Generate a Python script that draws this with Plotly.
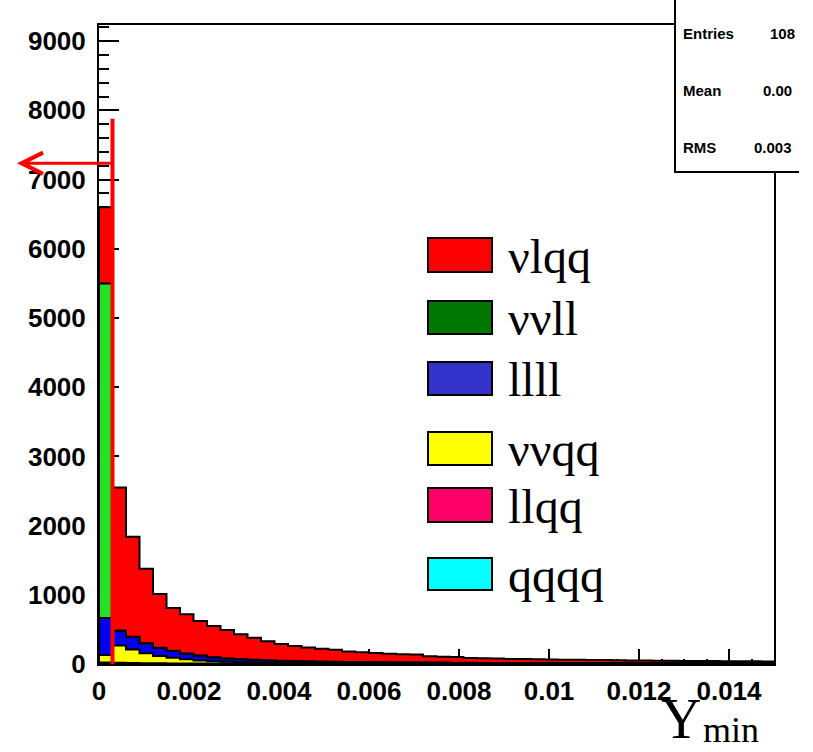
import numpy as np
import plotly.graph_objects as go

# ---------------- data ----------------
X_MIN, X_MAX, N_BINS = 0.0, 0.015, 50
Y_CUT = 0.0003          # cut value (red line)
ARROW_LEVEL = 7236      # height of the arrow
CUT_LINE_TOP = 7880

processes = ["qqqq", "llqq", "ννqq", "llll", "ννll", "νlqq"]  # bottom -> top of stack

qqqq = [5, 2, 2, 1, 1, 1, 1, 1, 1, 1, 1, 1, 1, 1, 1, 1, 1, 1, 1, 1,
        1, 1, 1, 1, 1, 1, 1, 1, 1, 1, 1, 1, 1, 1, 1, 1, 1, 1, 1, 1,
        1, 1, 1, 1, 1, 1, 1, 1, 1, 1]
llqq = [15, 15, 12, 10, 9, 8, 7, 6, 6, 5, 5, 4, 4, 4, 4, 3, 3, 3, 3, 3,
        3, 3, 2, 2, 2, 2, 2, 2, 2, 2, 2, 2, 2, 2, 2, 2, 2, 2, 2, 2,
        2, 2, 2, 2, 2, 2, 2, 2, 2, 2]
vvqq = [110, 250, 195, 145, 105, 80, 60, 42, 32, 26, 21, 17, 14, 12, 10, 9, 8, 7, 6, 6,
        5, 5, 4, 4, 4, 4, 3, 3, 3, 3, 3, 3, 3, 3, 2, 2, 2, 2, 2, 2,
        2, 2, 2, 2, 2, 2, 2, 2, 2, 2]
llll = [535, 210, 180, 140, 115, 100, 80, 70, 55, 45, 40, 35, 30, 27, 24, 22, 20, 18, 17, 16,
        15, 14, 13, 12, 11, 11, 10, 10, 9, 9, 9, 8, 8, 8, 7, 7, 7, 7, 6, 6,
        6, 6, 6, 5, 5, 5, 5, 5, 5, 5]
vvll = [4835, 8, 6, 5, 4, 4, 3, 3, 3, 3, 3, 3, 2, 2, 2, 2, 2, 2, 2, 2,
        2, 2, 2, 2, 2, 2, 2, 1, 1, 1, 1, 1, 1, 1, 1, 1, 1, 1, 1, 1,
        1, 1, 1, 1, 1, 1, 1, 1, 1, 1]
vlqq = [1100, 2065, 1445, 1074, 776, 617, 569, 498, 453, 410, 360, 320, 279, 244, 219, 203, 188, 174, 153, 140,
        132, 123, 120, 115, 92, 86, 82, 71, 66, 62, 58, 56, 53, 50, 49, 47, 45, 43, 42, 40,
        38, 36, 34, 34, 33, 31, 29, 28, 27, 26]

plot_colors = ["#00ffff", "#ff0066", "#ffff00", "#0000ee", "#22e022", "#ff0000"]
legend_labels = ["νlqq", "ννll", "llll", "ννqq", "llqq", "qqqq"]
legend_colors = ["#ff0000", "#007700", "#3333cc", "#ffff00", "#ff0066", "#00ffff"]

x_ticks = [0, 0.002, 0.004, 0.006, 0.008, 0.01, 0.012, 0.014]
x_ticktext = ["0", "0.002", "0.004", "0.006", "0.008", "0.01", "0.012", "0.014"]
y_ticks = [0, 1000, 2000, 3000, 4000, 5000, 6000, 7000, 8000, 9000]

# stats box as visible in the (cropped) picture
stats = [("Entries", "108"), ("Mean", "0.00"), ("RMS", "0.003")]

# ---------------- geometry ----------------
W, H = 813, 752
L, R, T, B = 99, 39, 25, 88
PW, PH = W - L - R, H - T - B


def px(xp):
    return (xp - L) / PW


def py(yp):
    return (H - B - yp) / PH


edges = np.linspace(X_MIN, X_MAX, N_BINS + 1)
series = [qqqq, llqq, vvqq, llll, vvll, vlqq]
cum = np.cumsum(np.array(series, dtype=float), axis=0)

fig = go.Figure()
# draw from the top of the stack downwards (like THStack)
for i in range(len(series) - 1, -1, -1):
    vals = list(cum[i])
    xs = [edges[0]] + list(edges) + [edges[-1]]
    ys = [0] + vals + [vals[-1], 0]
    fig.add_trace(go.Scatter(
        x=xs, y=ys, mode="lines", line=dict(shape="hv", color="black", width=2),
        fill="tozeroy", fillcolor=plot_colors[i], name=processes[i],
        showlegend=False, hoverinfo="skip"))

tick_font = dict(family="Liberation Sans", size=26, color="black", weight="bold")

fig.update_xaxes(
    range=[X_MIN, X_MAX], showgrid=False, zeroline=False,
    showline=True, linecolor="black", linewidth=2, mirror=True,
    ticks="inside", ticklen=15, tickwidth=2, tickcolor="black",
    tickvals=x_ticks, ticktext=x_ticktext, tickfont=tick_font,
    ticklabelstandoff=3, layer="below traces",
    minor=dict(tick0=0, dtick=0.0005, ticks="inside", ticklen=5, tickwidth=1.5, tickcolor="black"))
fig.update_yaxes(
    range=[0, 9234], showgrid=False, zeroline=False,
    showline=True, linecolor="black", linewidth=2, mirror=True,
    ticks="inside", ticklen=20, tickwidth=2, tickcolor="black",
    tickvals=y_ticks, tickfont=tick_font, ticklabelstandoff=6, layer="below traces",
    minor=dict(tick0=0, dtick=200, ticks="inside", ticklen=10, tickwidth=1.5, tickcolor="black"))

shapes = []
annotations = []

# cut line
shapes.append(dict(type="line", xref="x", yref="y", x0=Y_CUT, x1=Y_CUT, y0=0, y1=CUT_LINE_TOP,
                   line=dict(color="#ff0000", width=4)))
# arrow
annotations.append(dict(xref="paper", yref="y", x=px(17), y=ARROW_LEVEL, ax=96, ay=0,
                        text="", showarrow=True, arrowhead=5, arrowsize=1.4, arrowwidth=3,
                        arrowcolor="#ff0000", standoff=0))

# stats box (cut at the right edge of the picture)
shapes.append(dict(type="rect", xref="paper", yref="paper", x0=px(675), x1=px(830),
                   y0=py(172), y1=py(-10), fillcolor="white", line=dict(width=0),
                   layer="above"))
shapes.append(dict(type="line", xref="paper", yref="paper", x0=px(675), x1=px(675),
                   y0=py(172), y1=py(-5), line=dict(color="black", width=2)))
shapes.append(dict(type="line", xref="paper", yref="paper", x0=px(674), x1=px(799),
                   y0=py(172), y1=py(172), line=dict(color="black", width=2)))
stat_font = dict(family="Liberation Sans", size=15, color="black", weight="bold")
stat_ys = [34, 90, 147]
stat_vx = [768, 761, 752]
for (k, v), yy, vx in zip(stats, stat_ys, stat_vx):
    annotations.append(dict(xref="paper", yref="paper", x=px(681), y=py(yy), text=k,
                            showarrow=False, xanchor="left", yanchor="middle", font=stat_font))
    annotations.append(dict(xref="paper", yref="paper", x=px(vx), y=py(yy), text=v,
                            showarrow=False, xanchor="left", yanchor="middle", font=stat_font))

# legend
box_tops = [238, 301, 362, 432, 488, 558]
box_bots = [272, 334, 395, 465, 522, 590]
leg_font = dict(family="Liberation Serif", size=48, color="black")
for lab, col, t, b in zip(legend_labels, legend_colors, box_tops, box_bots):
    shapes.append(dict(type="rect", xref="paper", yref="paper", x0=px(428), x1=px(492),
                       y0=py(b), y1=py(t), fillcolor=col, line=dict(color="black", width=2)))
    annotations.append(dict(xref="paper", yref="paper", x=px(506), y=py((t + b) / 2 + 1),
                            text=lab, showarrow=False, xanchor="left", yanchor="middle",
                            font=leg_font))

# axis title
annotations.append(dict(xref="paper", yref="paper", x=px(703), y=py(719), text="Y",
                        showarrow=False, xanchor="right", yanchor="middle",
                        font=dict(family="Liberation Serif", size=56, color="black")))
annotations.append(dict(xref="paper", yref="paper", x=px(701), y=py(730), text="min",
                        showarrow=False, xanchor="left", yanchor="middle",
                        font=dict(family="Liberation Serif", size=36, color="black")))

fig.update_layout(
    width=W, height=H, margin=dict(l=L, r=R, t=T, b=B, pad=0),
    plot_bgcolor="white", paper_bgcolor="white",
    shapes=shapes, annotations=annotations, showlegend=False)

fig.write_html("out.html")
